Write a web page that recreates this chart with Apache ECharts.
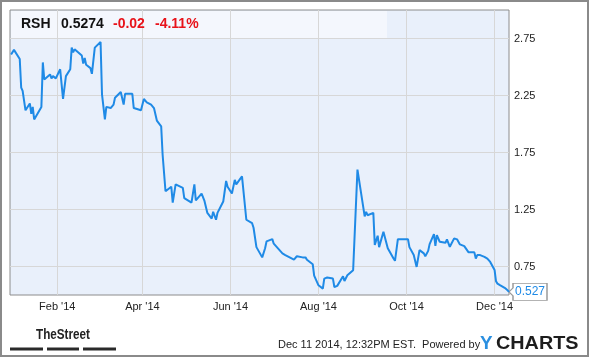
<!DOCTYPE html>
<html>
<head>
<meta charset="utf-8">
<script src="https://cdn.jsdelivr.net/npm/echarts@6/dist/echarts.min.js"></script>
<style>
html,body{margin:0;padding:0;background:#fff;}
#chart{width:590px;height:358px;}
</style>
</head>
<body>
<div id="chart"></div>
<script>
// ---- data ----
const dates = [
'2013-12-31','2014-01-02','2014-01-06','2014-01-07','2014-01-08','2014-01-10','2014-01-13','2014-01-14','2014-01-15','2014-01-16',
'2014-01-21','2014-01-22','2014-01-23','2014-01-27','2014-01-28','2014-01-29','2014-01-31','2014-02-03','2014-02-05','2014-02-06',
'2014-02-07','2014-02-10','2014-02-11','2014-02-12','2014-02-13','2014-02-18','2014-02-19','2014-02-20','2014-02-21','2014-02-24',
'2014-02-25','2014-02-27','2014-03-03','2014-03-04','2014-03-06','2014-03-07','2014-03-10','2014-03-12','2014-03-13','2014-03-17',
'2014-03-19','2014-03-20','2014-03-25','2014-03-26','2014-03-31','2014-04-02','2014-04-04','2014-04-07','2014-04-08','2014-04-09',
'2014-04-11','2014-04-14','2014-04-15','2014-04-17','2014-04-21','2014-04-22','2014-04-24','2014-04-29','2014-04-30','2014-05-05',
'2014-05-07','2014-05-08','2014-05-12','2014-05-13','2014-05-14','2014-05-16','2014-05-19','2014-05-20','2014-05-22','2014-05-23',
'2014-05-27','2014-05-29','2014-05-30','2014-06-02','2014-06-04','2014-06-05','2014-06-09','2014-06-12','2014-06-16','2014-06-17',
'2014-06-19','2014-06-23','2014-06-25','2014-06-26','2014-06-30','2014-07-01','2014-07-02','2014-07-07','2014-07-08','2014-07-09',
'2014-07-15','2014-07-17','2014-07-21','2014-07-23','2014-07-24','2014-07-28','2014-07-29','2014-08-01','2014-08-04','2014-08-05',
'2014-08-07','2014-08-08','2014-08-11','2014-08-12','2014-08-14','2014-08-18','2014-08-19','2014-08-21','2014-08-25','2014-08-28',
'2014-09-02','2014-09-03','2014-09-04','2014-09-08','2014-09-09','2014-09-10','2014-09-11','2014-09-12','2014-09-15','2014-09-18',
'2014-09-19','2014-09-22','2014-09-23','2014-09-24','2014-09-25','2014-09-29','2014-09-30','2014-10-02','2014-10-03','2014-10-06',
'2014-10-08','2014-10-10','2014-10-13','2014-10-14','2014-10-16','2014-10-17','2014-10-20','2014-10-21','2014-10-22','2014-10-24',
'2014-10-28','2014-10-29','2014-10-31','2014-11-03','2014-11-05','2014-11-07','2014-11-10','2014-11-13','2014-11-17','2014-11-18',
'2014-11-19','2014-11-20','2014-11-21','2014-11-24','2014-11-26','2014-11-28','2014-12-01','2014-12-02','2014-12-03','2014-12-04',
'2014-12-05','2014-12-08','2014-12-09','2014-12-10','2014-12-11'
];
const prices = [
2.61,2.65,2.57,2.32,2.29,2.12,2.18,2.09,2.15,2.04,
2.15,2.54,2.39,2.435,2.40,2.42,2.40,2.48,2.22,2.22,
2.42,2.48,2.67,2.63,2.655,2.60,2.53,2.58,2.52,2.49,
2.44,2.67,2.72,2.26,2.04,2.15,2.14,2.17,2.23,2.28,
2.17,2.265,2.265,2.14,2.12,2.22,2.19,2.17,2.18,2.14,
2.03,1.98,1.73,1.41,1.45,1.31,1.47,1.44,1.35,1.31,
1.47,1.33,1.39,1.39,1.325,1.22,1.17,1.23,1.16,1.22,
1.32,1.50,1.45,1.39,1.51,1.47,1.54,1.16,1.13,1.09,
0.92,0.83,0.91,0.97,0.99,0.95,0.96,0.865,0.88,0.85,
0.81,0.84,0.83,0.83,0.81,0.77,0.67,0.585,0.556,0.644,
0.653,0.641,0.644,0.57,0.58,0.665,0.623,0.673,0.717,1.60,
1.19,1.23,1.20,1.22,0.94,0.93,1.02,0.92,1.055,0.91,
0.92,0.82,0.80,0.79,0.99,0.99,0.976,0.99,0.92,0.85,
0.746,0.894,0.865,0.84,0.887,0.946,1.034,0.93,1.026,0.967,
0.958,0.988,0.923,0.997,0.988,0.944,0.929,0.874,0.874,0.82,
0.85,0.835,0.85,0.835,0.82,0.79,0.72,0.62,0.60,0.594,
0.585,0.563,0.554,0.541,0.527
];
const xTickDates = ['2014-02-01','2014-04-01','2014-06-01','2014-08-01','2014-10-01','2014-12-01'];
const xTickLabels = ["Feb '14","Apr '14","Jun '14","Aug '14","Oct '14","Dec '14"];
const yTicks = [0.75, 1.25, 1.75, 2.25, 2.75];
const ticker = 'RSH';
const lastPrice = '0.5274';
const change = '-0.02';
const changePct = '-4.11%';
const footerText = 'Dec 11 2014, 12:32PM EST.  Powered by';

// ---- helpers ----
function ts(s){ const p = s.split('-').map(Number); return new Date(p[0], p[1]-1, p[2]).getTime(); }
const seriesData = dates.map((d,i) => [ts(d), prices[i]]);
const xTickTimes = xTickDates.map(ts);
const lastIdx = dates.length - 1;

const FONT = '"Liberation Sans", Arial, sans-serif';
const BLUE = '#1f8ae6';

const chart = echarts.init(document.getElementById('chart'), null, {renderer:'canvas'});
chart.setOption({
  animation: false,
  backgroundColor: '#ffffff',
  grid: {left: 10, top: 10, right: 81, bottom: 63, show: true, borderColor: '#8c8c8c', borderWidth: 1, backgroundColor: 'transparent'},
  xAxis: {
    type: 'value',
    min: ts('2013-12-30') + 6*3600*1000,
    max: ts('2014-12-11'),
    axisLine: {show: false},
    axisTick: {show: false, customValues: xTickTimes},
    splitLine: {show: true, lineStyle: {color: '#d7d7d7', width: 1}},
    axisLabel: {
      customValues: xTickTimes,
      formatter: function(v){ const i = xTickTimes.indexOf(v); return i >= 0 ? xTickLabels[i] : ''; },
      color: '#222', fontSize: 11, fontFamily: FONT, margin: 6
    }
  },
  yAxis: {
    type: 'value',
    position: 'right',
    min: 0.5, max: 3.0,
    axisLine: {show: false},
    axisTick: {show: false, customValues: yTicks},
    splitLine: {show: true, lineStyle: {color: '#d7d7d7', width: 1}},
    axisLabel: {
      customValues: yTicks,
      formatter: function(v){ return v.toFixed(2); },
      color: '#222', fontSize: 11, fontFamily: FONT, margin: 5
    }
  },
  series: [{
    type: 'line',
    data: seriesData,
    showSymbol: false,
    symbol: 'none',
    lineStyle: {color: BLUE, width: 2},
    z: 5,
    markPoint: {
      silent: true,
      symbol: 'path://M0,8.5 L4,4.5 L4,0 L38,0 L38,17 L4,17 L4,12.5 Z',
      symbolSize: [38, 17],
      symbolOffset: [19, 0],
      itemStyle: {color: '#ffffff', borderColor: '#9a9a9a', borderWidth: 1},
      label: {
        show: true, position: 'inside', offset: [2, 0],
        color: BLUE, fontSize: 12, fontFamily: FONT,
        formatter: function(){ return prices[lastIdx].toFixed(3); }
      },
      data: [{coord: [ts(dates[lastIdx]), prices[lastIdx]]}]
    }
  }],
  graphic: [
    {type:'rect', z:-20, shape:{x:10, y:10, width:499, height:285}, style:{fill:'#e9f0fb'}},
    {type:'rect', z:-19, shape:{x:11, y:11, width:376, height:27}, style:{fill:'#f4f7fd'}},
    {type:'rect', z:50, shape:{x:1, y:1, width:587, height:355}, style:{fill:'none', stroke:'#8a8a8a', lineWidth:2}},
    {type:'text', z:50, x:21, y:24, style:{text: ticker, font:'bold 14px ' + FONT, fill:'#111', textVerticalAlign:'middle'}},
    {type:'text', z:50, x:61, y:24, style:{text: lastPrice, font:'bold 14px ' + FONT, fill:'#111', textVerticalAlign:'middle'}},
    {type:'text', z:50, x:113, y:24, style:{text: change, font:'bold 14px ' + FONT, fill:'#e8131a', textVerticalAlign:'middle'}},
    {type:'text', z:50, x:155, y:24, style:{text: changePct, font:'bold 14px ' + FONT, fill:'#e8131a', textVerticalAlign:'middle'}},
    {type:'text', z:50, x:36, y:335, scaleX:0.78, style:{text:'TheStreet', font:'bold 15px ' + FONT, fill:'#222', textVerticalAlign:'middle'}},
    {type:'rect', z:50, shape:{x:10, y:347.5, width:33, height:3}, style:{fill:'#2a2a2a'}},
    {type:'rect', z:50, shape:{x:47, y:347.5, width:32, height:3}, style:{fill:'#2a2a2a'}},
    {type:'rect', z:50, shape:{x:83, y:347.5, width:33, height:3}, style:{fill:'#2a2a2a'}},
    {type:'text', z:50, x:278, y:345, style:{text: footerText, font:'11px ' + FONT, fill:'#222', textVerticalAlign:'middle'}},
    {type:'text', z:50, x:480, y:344, scaleX:1.05, style:{text:'Y', font:'bold 18px ' + FONT, fill:'#2a8fe0', textVerticalAlign:'middle'}},
    {type:'text', z:50, x:496, y:344, scaleX:1.1, style:{text:'CHARTS', font:'bold 18px ' + FONT, fill:'#1d1d1d', textVerticalAlign:'middle'}}
  ]
});
</script>
</body>
</html>
